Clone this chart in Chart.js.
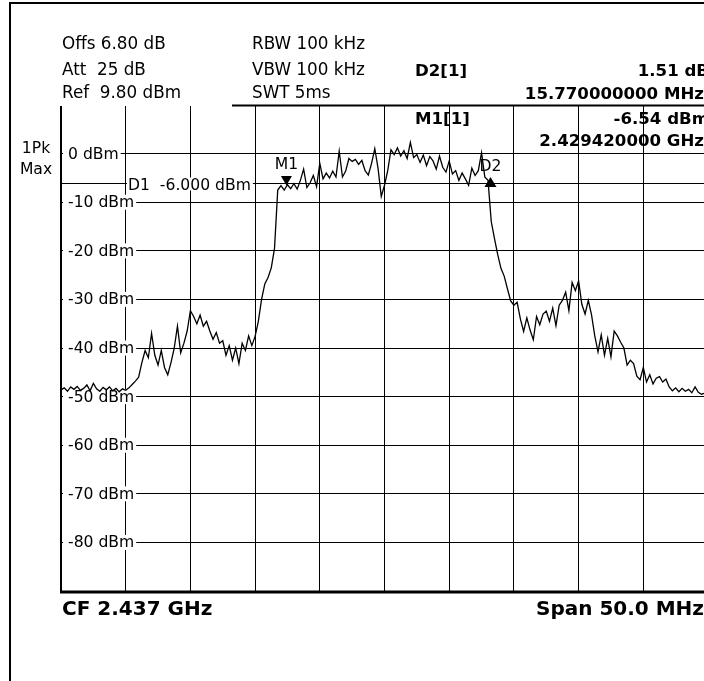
<!DOCTYPE html>
<html>
<head>
<meta charset="utf-8">
<script src="https://cdn.jsdelivr.net/npm/chart.js@4"></script>
<style>
  html, body { margin: 0; padding: 0; background: #fff; overflow: hidden; }
  #wrap { width: 712px; height: 681px; }
</style>
</head>
<body>
<div id="wrap"><canvas id="spectrum" width="712" height="681"></canvas></div>
<script>
// sweep: 2.412 .. 2.462 GHz, one trace point every 0.25 MHz
const sweepStartMHz = 2412;
const sweepStepMHz = 0.25;
const traceDbm = [
  -48.6, -48.2, -48.9, -48.0, -48.5, -47.9, -48.7, -48.3, -47.6, -48.8, -47.3,
  -48.4, -48.9, -48.1, -48.6, -48.0, -48.8, -48.3, -49.0, -48.4, -48.7,
  -48.2, -47.5, -46.8, -46.0, -43.0, -40.5, -42.0, -37.0, -41.5, -43.5,
  -40.5, -44.0, -45.5, -43.0, -40.0, -35.5, -41.0, -39.0, -36.5, -32.3,
  -33.5, -35.0, -33.2, -35.5, -34.5, -36.5, -38.2, -36.8, -39.0, -38.5,
  -41.5, -39.5, -42.5, -40.0, -43.2, -39.0, -40.5, -37.5, -39.5, -37.6,
  -34.5, -30.0, -26.8, -25.5, -23.5, -19.5, -7.5, -6.6, -7.5, -6.4,
  -7.2, -6.2, -7.3, -5.5, -3.2, -7.0, -6.0, -4.5, -6.8, -2.0,
  -5.2, -4.0, -5.0, -3.6, -4.8, 0.5, -4.8, -3.6, -1.0, -1.6,
  -1.2, -2.2, -1.4, -3.5, -4.4, -2.0, 1.0, -3.0, -8.8, -6.5,
  -3.5, 0.8, -0.2, 1.2, -0.5, 0.6, -1.0, 2.3, -0.8, -0.2,
  -1.8, -0.3, -2.5, -0.6, -1.5, -3.2, -0.5, -2.8, -3.8, -1.5,
  -4.2, -3.5, -5.5, -4.0, -5.2, -6.5, -3.0, -4.5, -3.5, 0.2,
  -4.8, -5.5, -14.0, -17.5, -20.8, -23.6, -25.2, -27.8, -30.3, -31.2,
  -30.6, -34.0, -36.6, -33.8, -36.3, -38.3, -33.5, -35.2, -33.0, -32.4,
  -34.5, -31.8, -35.4, -31.2, -30.2, -28.5, -32.3, -26.5, -28.2, -26.2,
  -31.0, -33.0, -30.2, -33.2, -37.5, -40.8, -37.3, -41.5, -38.0, -41.8,
  -36.5, -37.5, -38.8, -40.0, -43.5, -42.5, -43.2, -45.8, -46.5, -44.0,
  -47.0, -45.5, -47.4, -46.2, -45.9, -47.0, -46.4, -48.0, -48.8, -48.2,
  -49.0, -48.3, -48.9, -48.5, -49.2, -48.0, -49.1, -49.5, -49.3, -49.5
];

// grid / axis
const xGridMHz = [2412, 2417, 2422, 2427, 2432, 2437, 2442, 2447, 2452, 2457, 2462];
const yGridDbm = [0, -10, -20, -30, -40, -50, -60, -70, -80, -90];
const yTickLabels = ['0 dBm', '-10 dBm', '-20 dBm', '-30 dBm', '-40 dBm', '-50 dBm', '-60 dBm', '-70 dBm', '-80 dBm'];
const refLevelDbm = 9.8;
const bottomLevelDbm = -90.2;

// markers
const markerNames = ['M1', 'D2'];
const markerFreqMHz = [2429.42, 2445.19];
const markerDbm = [-6.54, -5.03];
const displayLineDbm = -6.0;

// instrument text
const headerLeft = ['Offs 6.80 dB', 'Att  25 dB', 'Ref  9.80 dBm'];
const headerMid = ['RBW 100 kHz', 'VBW 100 kHz', 'SWT 5ms'];
const markerReadout = ['D2[1]', '1.51 dB', '15.770000000 MHz', 'M1[1]', '-6.54 dBm', '2.429420000 GHz'];

const FONT = '"DejaVu Sans", Verdana, sans-serif';

const points = traceDbm.map((v, i) => ({ x: sweepStartMHz + i * sweepStepMHz, y: v }));

const analyzerDecor = {
  id: 'analyzerDecor',
  beforeDatasetsDraw(chart) {
    const ctx = chart.ctx;
    const area = chart.chartArea;
    const ys = chart.scales.y;
    ctx.save();
    // display line D1
    const yD1 = Math.round(ys.getPixelForValue(displayLineDbm)) + 0.5;
    ctx.strokeStyle = '#000';
    ctx.lineWidth = 1;
    ctx.beginPath();
    ctx.moveTo(area.left, yD1);
    ctx.lineTo(area.right, yD1);
    ctx.stroke();

    ctx.font = '15.6px ' + FONT;
    ctx.textBaseline = 'middle';
    ctx.textAlign = 'left';
    // level labels over the grid
    yTickLabels.forEach((lab, i) => {
      const y = ys.getPixelForValue(yGridDbm[i]);
      const w = ctx.measureText(lab).width;
      ctx.fillStyle = '#fff';
      ctx.fillRect(area.left + 2, y - 7.5, w + 7, 15);
      ctx.fillStyle = '#000';
      ctx.fillText(lab, area.left + 7, y + 1);
    });
    // D1 label
    const d1 = 'D1  -6.000 dBm';
    const w1 = ctx.measureText(d1).width;
    ctx.fillStyle = '#fff';
    ctx.fillRect(127, yD1 - 6, w1 + 3, 13);
    ctx.fillStyle = '#000';
    ctx.fillText(d1, 128, yD1 + 2);
    ctx.restore();
  },
  afterDatasetsDraw(chart) {
    const ctx = chart.ctx;
    const area = chart.chartArea;
    const xs = chart.scales.x;
    const ys = chart.scales.y;
    ctx.save();
    ctx.fillStyle = '#000';
    ctx.font = '15.6px ' + FONT;
    ctx.textAlign = 'center';
    ctx.textBaseline = 'middle';
    markerNames.forEach((name, i) => {
      const px = xs.getPixelForValue(markerFreqMHz[i]);
      const py = ys.getPixelForValue(markerDbm[i]);
      ctx.beginPath();
      if (name === 'M1') {
        ctx.moveTo(px - 5.5, py - 9.5);
        ctx.lineTo(px + 5.5, py - 9.5);
        ctx.lineTo(px, py);
      } else {
        ctx.moveTo(px, py - 1);
        ctx.lineTo(px + 6, py + 9);
        ctx.lineTo(px - 6, py + 9);
      }
      ctx.closePath();
      ctx.fill();
      ctx.fillText(name, px, py - (name === 'M1' ? 20 : 11));
    });

    // heavy frame of the plot
    ctx.strokeStyle = '#000';
    ctx.lineWidth = 2;
    ctx.beginPath();
    ctx.moveTo(area.left, area.top);
    ctx.lineTo(area.left, area.bottom);
    ctx.stroke();
    ctx.lineWidth = 3;
    ctx.beginPath();
    ctx.moveTo(area.left - 1, area.bottom);
    ctx.lineTo(area.right + 4, area.bottom);
    ctx.stroke();
    // separator under header / readout
    ctx.lineWidth = 2;
    ctx.beginPath();
    ctx.moveTo(232, area.top - 0.5);
    ctx.lineTo(area.right + 4, area.top - 0.5);
    ctx.stroke();
    // outer frame
    ctx.beginPath();
    ctx.moveTo(10, 681);
    ctx.lineTo(10, 3);
    ctx.lineTo(712, 3);
    ctx.stroke();

    // header text
    ctx.textAlign = 'left';
    ctx.font = '16.8px ' + FONT;
    const rowsY = [45, 71, 94];
    headerLeft.forEach((t, i) => ctx.fillText(t, 62, rowsY[i]));
    headerMid.forEach((t, i) => ctx.fillText(t, 252, rowsY[i]));
    ctx.font = '15.6px ' + FONT;
    ctx.textAlign = 'center';
    ctx.fillText('1Pk', 36, 149);
    ctx.fillText('Max', 36, 170);

    ctx.font = 'bold 16.6px ' + FONT;
    ctx.textAlign = 'left';
    ctx.fillText(markerReadout[0], 415, 72);
    ctx.fillText(markerReadout[3], 415, 120);
    ctx.textAlign = 'right';
    ctx.fillText(markerReadout[1], 709, 72);
    ctx.fillText(markerReadout[2], 704, 95);
    ctx.fillText(markerReadout[4], 709, 120);
    ctx.fillText(markerReadout[5], 704, 142);

    ctx.font = 'bold 20px ' + FONT;
    ctx.textAlign = 'left';
    ctx.fillText('CF 2.437 GHz', 62, 610);
    ctx.textAlign = 'right';
    ctx.fillText('Span 50.0 MHz', 704, 610);
    ctx.restore();
  }
};

new Chart(document.getElementById('spectrum').getContext('2d'), {
  type: 'line',
  data: {
    datasets: [{
      data: points,
      borderColor: '#000',
      borderWidth: 1.3,
      pointRadius: 0,
      tension: 0,
      fill: false
    }]
  },
  options: {
    responsive: false,
    animation: false,
    devicePixelRatio: 1,
    layout: { padding: { left: 61, top: 106, right: 4, bottom: 89 } },
    plugins: {
      legend: { display: false },
      tooltip: { enabled: false }
    },
    scales: {
      x: {
        type: 'linear',
        min: sweepStartMHz,
        max: 2462,
        afterBuildTicks: (scale) => { scale.ticks = xGridMHz.map(v => ({ value: v })); },
        ticks: { display: false },
        grid: { color: '#000', lineWidth: 1, drawTicks: false },
        border: { display: false }
      },
      y: {
        min: bottomLevelDbm,
        max: refLevelDbm,
        afterBuildTicks: (scale) => { scale.ticks = yGridDbm.map(v => ({ value: v })); },
        ticks: { display: false },
        grid: { color: '#000', lineWidth: 1, drawTicks: false },
        border: { display: false }
      }
    }
  },
  plugins: [analyzerDecor]
});
</script>
</body>
</html>
